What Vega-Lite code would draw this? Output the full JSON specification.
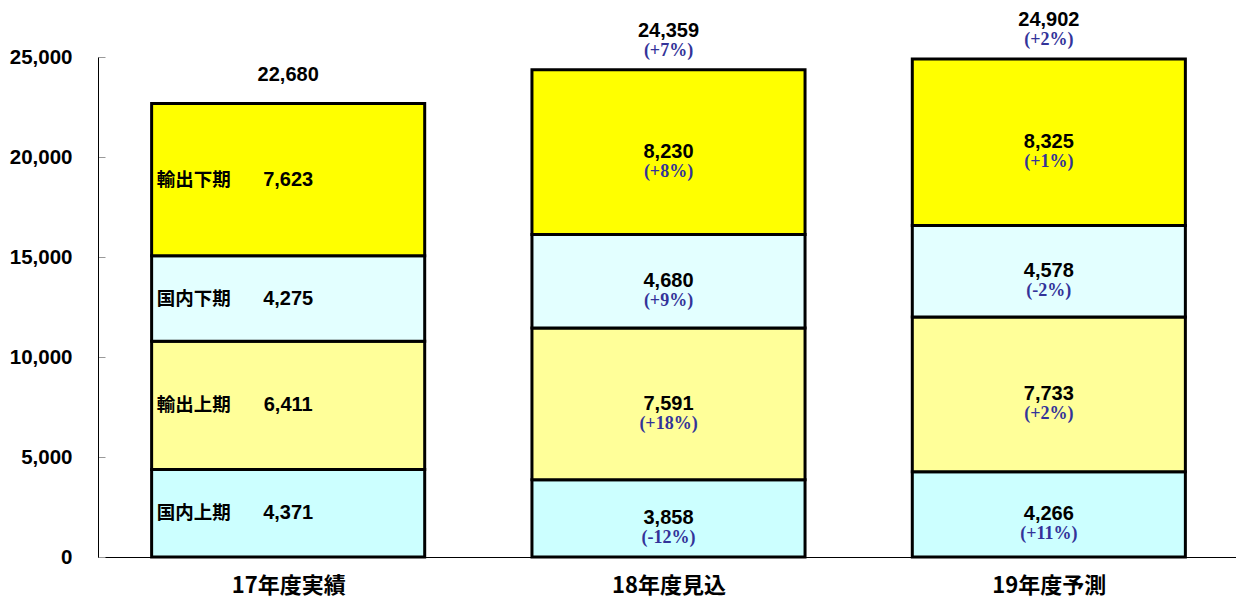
{
  "$schema": "https://vega.github.io/schema/vega-lite/v6.json",
  "autosize": "none",
  "width": 1141,
  "height": 500,
  "padding": {"left": 98, "top": 57, "right": 0, "bottom": 41},
  "background": "white",
  "config": {
    "view": {"stroke": null},
    "axisY": {
      "title": null, "grid": false, "domainColor": "black", "tickSize": -7, "tickColor": "#999999",
      "labelFont": "Liberation Sans", "labelFontWeight": "bold", "labelFontSize": 20.5,
      "labelColor": "black", "labelPadding": 33
    }
  },
  "datasets": {
    "segs": [
      {"cat": "17年度実績", "seg": "国内上期", "ord": 1, "value": 4371, "pct": null},
      {"cat": "17年度実績", "seg": "輸出上期", "ord": 2, "value": 6411, "pct": null},
      {"cat": "17年度実績", "seg": "国内下期", "ord": 3, "value": 4275, "pct": null},
      {"cat": "17年度実績", "seg": "輸出下期", "ord": 4, "value": 7623, "pct": null},
      {"cat": "18年度見込", "seg": "国内上期", "ord": 1, "value": 3858, "pct": "(-12%)"},
      {"cat": "18年度見込", "seg": "輸出上期", "ord": 2, "value": 7591, "pct": "(+18%)"},
      {"cat": "18年度見込", "seg": "国内下期", "ord": 3, "value": 4680, "pct": "(+9%)"},
      {"cat": "18年度見込", "seg": "輸出下期", "ord": 4, "value": 8230, "pct": "(+8%)"},
      {"cat": "19年度予測", "seg": "国内上期", "ord": 1, "value": 4266, "pct": "(+11%)"},
      {"cat": "19年度予測", "seg": "輸出上期", "ord": 2, "value": 7733, "pct": "(+2%)"},
      {"cat": "19年度予測", "seg": "国内下期", "ord": 3, "value": 4578, "pct": "(-2%)"},
      {"cat": "19年度予測", "seg": "輸出下期", "ord": 4, "value": 8325, "pct": "(+1%)"}
    ],
    "totals": [
      {"cat": "17年度実績", "total": 22680, "pct": null},
      {"cat": "18年度見込", "total": 24359, "pct": "(+7%)"},
      {"cat": "19年度予測", "total": 24902, "pct": "(+2%)"}
    ]
  },
  "encoding": {
    "x": {
      "field": "cat", "type": "nominal", "sort": null,
      "scale": {"paddingInner": 0.282, "paddingOuter": 0.141},
      "axis": {
        "title": null, "labelAngle": 0, "domainColor": "black", "domainWidth": 1,
        "tickBand": "extent", "tickSize": -7, "tickColor": "#999999",
        "labelFont": "Noto Sans CJK JP", "labelFontWeight": "bold", "labelFontSize": 22,
        "labelColor": "black", "labelPadding": 25, "labelBaseline": "top"
      }
    }
  },
  "layer": [
    {
      "data": {"name": "segs"},
      "mark": {"type": "bar", "stroke": "black", "strokeWidth": 3},
      "encoding": {
        "y": {
          "field": "value", "type": "quantitative", "stack": "zero",
          "scale": {"domain": [0, 25000], "nice": false},
          "axis": {"values": [0, 5000, 10000, 15000, 20000, 25000], "format": ",d"}
        },
        "color": {
          "field": "seg", "type": "nominal", "legend": null,
          "scale": {"domain": ["国内上期", "輸出上期", "国内下期", "輸出下期"],
                    "range": ["#CCFFFF", "#FFFF99", "#E3FFFF", "#FFFF00"]}
        },
        "order": {"field": "ord", "type": "quantitative"}
      }
    },
    {
      "data": {"name": "segs"},
      "mark": {"type": "text", "font": "Liberation Sans", "fontWeight": "bold", "fontSize": 20, "color": "black", "baseline": "middle"},
      "encoding": {
        "y": {"field": "value", "type": "quantitative", "stack": "zero", "bandPosition": 0.5,
              "axis": {"values": [0, 5000, 10000, 15000, 20000, 25000], "format": ",d"}},
        "detail": {"field": "seg"},
        "order": {"field": "ord", "type": "quantitative"},
        "text": {"field": "value", "type": "quantitative", "format": ","}
      }
    },
    {
      "data": {"name": "segs"},
      "transform": [{"filter": "datum.pct != null"}],
      "mark": {"type": "text", "font": "Liberation Serif", "fontWeight": "bold", "fontSize": 18, "color": "#333399", "baseline": "middle", "dy": 20},
      "encoding": {
        "y": {"field": "value", "type": "quantitative", "stack": "zero", "bandPosition": 0.5,
              "axis": {"values": [0, 5000, 10000, 15000, 20000, 25000], "format": ",d"}},
        "detail": {"field": "seg"},
        "order": {"field": "ord", "type": "quantitative"},
        "text": {"field": "pct", "type": "nominal"}
      }
    },
    {
      "data": {"name": "segs"},
      "transform": [{"filter": "datum.cat == '17年度実績'"}],
      "mark": {"type": "text", "font": "Noto Sans CJK JP", "fontWeight": "bold", "fontSize": 18.5, "color": "black", "baseline": "middle", "align": "left", "dx": 5},
      "encoding": {
        "x": {"field": "cat", "type": "nominal", "sort": null, "bandPosition": 0},
        "y": {"field": "value", "type": "quantitative", "stack": "zero", "bandPosition": 0.5,
              "axis": {"values": [0, 5000, 10000, 15000, 20000, 25000], "format": ",d"}},
        "detail": {"field": "seg"},
        "order": {"field": "ord", "type": "quantitative"},
        "text": {"field": "seg", "type": "nominal"}
      }
    },
    {
      "data": {"name": "totals"},
      "transform": [{"filter": "datum.pct == null"}],
      "mark": {"type": "text", "font": "Liberation Sans", "fontWeight": "bold", "fontSize": 20, "color": "black", "baseline": "middle", "dy": -28},
      "encoding": {
        "y": {"field": "total", "type": "quantitative",
              "axis": {"values": [0, 5000, 10000, 15000, 20000, 25000], "format": ",d"}},
        "text": {"field": "total", "type": "quantitative", "format": ","}
      }
    },
    {
      "data": {"name": "totals"},
      "transform": [{"filter": "datum.pct != null"}],
      "mark": {"type": "text", "font": "Liberation Sans", "fontWeight": "bold", "fontSize": 20, "color": "black", "baseline": "middle", "dy": -39},
      "encoding": {
        "y": {"field": "total", "type": "quantitative",
              "axis": {"values": [0, 5000, 10000, 15000, 20000, 25000], "format": ",d"}},
        "text": {"field": "total", "type": "quantitative", "format": ","}
      }
    },
    {
      "data": {"name": "totals"},
      "transform": [{"filter": "datum.pct != null"}],
      "mark": {"type": "text", "font": "Liberation Serif", "fontWeight": "bold", "fontSize": 18, "color": "#333399", "baseline": "middle", "dy": -19},
      "encoding": {
        "y": {"field": "total", "type": "quantitative",
              "axis": {"values": [0, 5000, 10000, 15000, 20000, 25000], "format": ",d"}},
        "text": {"field": "pct", "type": "nominal"}
      }
    }
  ]
}
